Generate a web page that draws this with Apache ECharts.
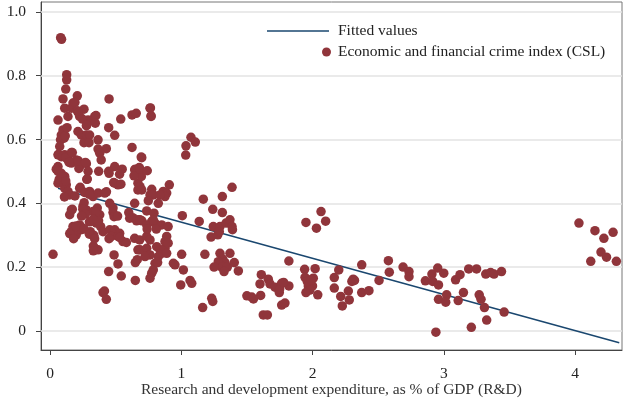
<!DOCTYPE html>
<html>
<head>
<meta charset="utf-8">
<script src="https://cdn.jsdelivr.net/npm/echarts@6/dist/echarts.min.js"></script>
<style>html,body{margin:0;padding:0;background:#fff}#c{width:626px;height:401px}</style>
</head>
<body>
<div id="c"></div>
<script>
// Scatter data: R&D expenditure (% of GDP) vs Economic and financial crime index (CSL)
const crimeX = [
0.081,0.088,0.127,0.127,0.12,0.099,0.208,0.45,0.112,0.137,0.175,0.163,0.19,0.208,0.226,0.259,0.29,0.061,0.34,0.35,
0.345,0.277,0.447,0.493,0.539,0.625,0.657,0.765,0.77,0.099,0.086,0.08,0.107,0.074,0.213,0.238,0.277,0.302,0.259,0.297,
0.366,0.366,0.429,0.379,0.39,0.493,0.45,0.625,0.061,0.086,0.112,0.137,0.163,0.061,0.048,0.137,0.163,0.2,0.226,0.277,
0.086,0.112,0.29,0.371,0.116,0.13,0.22,0.216,0.247,0.28,
0.061,0.081,0.099,0.124,0.112,0.137,0.15,0.061,0.284,0.447,0.226,0.264,0.302,0.328,0.366,0.417,0.493,0.518,0.67,0.696,
0.67,0.645,0.163,0.15,0.175,0.163,0.2,0.226,0.251,0.238,0.251,0.264,0.277,0.328,0.315,0.36,0.379,0.353,0.386,0.404,
0.307,0.333,0.34,0.366,0.48,0.488,0.455,0.493,0.531,0.467,0.518,0.556,0.582,0.488,0.518,0.543,0.447,0.404,0.429,0.415,
0.65,0.023,0.67,0.665,0.645,0.683,0.607,0.67,0.645,0.455,0.48,0.28,0.485,0.54,0.55,0.53,0.65,0.68,0.695,0.64,
0.35,0.30,0.37,0.2,0.15,0.26,0.30,0.18,0.34,0.33,0.33,0.515,0.60,0.63,0.45,0.53,0.66,0.70,0.43,0.19,
0.11,0.26,0.17,0.25,0.27,0.24,0.33,0.23,0.27,0.30,0.07,0.09,0.12,0.065,0.10,0.12,0.17,0.146,0.216,0.27,
0.762,0.77,1.074,1.107,1.036,1.034,0.699,0.686,0.741,0.686,0.699,0.775,0.762,0.787,0.749,0.863,0.889,0.876,0.838,0.825,
0.909,0.737,0.792,0.686,0.775,0.8,0.851,0.90,1.008,1.168,1.137,1.24,1.313,1.313,1.387,1.244,1.295,1.341,1.371,1.387,
1.227,1.278,0.686,0.737,0.762,0.724,0.813,0.838,0.851,0.876,0.889,0.825,0.8,0.889,0.876,0.90,0.737,0.762,0.737,0.787,
0.787,0.775,0.762,1.003,0.94,0.952,1.016,0.996,1.067,1.08,1.18,1.295,1.316,1.333,1.282,1.308,1.351,1.326,1.371,1.404,
1.435,1.25,1.232,1.24,1.163,1.29,1.39,0.65,0.74,0.81,0.82,
2.065,1.95,2.10,2.03,1.82,1.94,2.02,1.61,1.943,2.006,1.968,2.0,1.98,2.04,1.96,1.99,1.95,1.663,1.60,1.676,
1.714,1.765,1.747,1.82,1.605,1.50,1.537,1.55,1.765,1.79,1.625,1.656,1.75,1.78,2.166,2.20,2.166,2.215,2.227,2.273,
2.28,2.31,2.32,2.30,2.375,2.375,2.43,2.507,
2.578,2.585,2.69,2.735,2.735,2.86,2.91,2.954,3.0,2.916,2.96,3.022,2.96,3.015,2.94,3.09,3.124,3.19,3.25,3.15,
3.11,3.27,3.284,3.31,3.327,3.21,3.32,3.357,3.383,3.44,3.46,
4.03,4.152,4.22,4.29,4.198,4.24,4.12,4.315
];
const crimeY = [
0.919,0.914,0.803,0.787,0.758,0.727,0.737,0.727,0.698,0.672,0.714,0.698,0.716,0.69,0.672,0.695,0.661,0.661,0.672,0.675,
0.651,0.643,0.637,0.613,0.664,0.677,0.682,0.699,0.674,0.63,0.614,0.599,0.604,0.578,0.625,0.614,0.614,0.614,0.59,0.59,
0.599,0.57,0.571,0.557,0.536,0.515,0.494,0.575,0.552,0.546,0.552,0.549,0.559,0.515,0.507,0.536,0.526,0.536,0.515,0.524,
0.494,0.484,0.50,0.50,0.611,0.637,0.509,0.684,0.664,0.645,
0.50,0.473,0.463,0.458,0.447,0.437,0.426,0.463,0.476,0.50,0.447,0.434,0.437,0.421,0.432,0.432,0.463,0.458,0.463,0.484,
0.442,0.505,0.379,0.364,0.327,0.311,0.301,0.332,0.322,0.317,0.39,0.374,0.379,0.374,0.343,0.385,0.364,0.338,0.327,0.311,
0.311,0.30,0.259,0.254,0.371,0.358,0.317,0.317,0.306,0.296,0.296,0.28,0.277,0.238,0.21,0.172,0.186,0.12,0.099,0.125,
0.158,0.24,0.254,0.223,0.29,0.285,0.353,0.348,0.40,0.40,0.385,0.475,0.465,0.46,0.507,0.491,0.507,0.512,0.545,0.486,
0.371,0.342,0.345,0.329,0.305,0.319,0.303,0.289,0.289,0.266,0.251,0.36,0.371,0.355,0.289,0.293,0.345,0.345,0.436,0.423,
0.42,0.402,0.381,0.381,0.366,0.36,0.35,0.45,0.434,0.428,0.475,0.483,0.47,0.553,0.549,0.543,0.559,0.528,0.533,0.528,
0.698,0.672,0.607,0.592,0.58,0.551,0.543,0.507,0.502,0.452,0.442,0.444,0.426,0.426,0.408,0.437,0.432,0.421,0.426,0.40,
0.458,0.376,0.369,0.348,0.343,0.338,0.332,0.327,0.361,0.413,0.343,0.381,0.421,0.371,0.45,0.327,0.327,0.338,0.348,0.327,
0.294,0.301,0.254,0.259,0.238,0.233,0.264,0.254,0.243,0.259,0.243,0.233,0.212,0.296,0.28,0.275,0.296,0.285,0.332,0.348,
0.191,0.181,0.165,0.24,0.212,0.207,0.191,0.144,0.158,0.149,0.24,0.243,0.225,0.214,0.217,0.20,0.20,0.186,0.243,0.214,
0.188,0.20,0.102,0.092,0.073,0.311,0.317,0.214,0.319,0.319,0.214,
0.374,0.34,0.344,0.322,0.219,0.193,0.195,0.176,0.168,0.165,0.141,0.141,0.128,0.113,0.155,0.16,0.12,0.162,0.147,0.147,
0.137,0.149,0.12,0.141,0.111,0.11,0.106,0.10,0.081,0.087,0.05,0.05,0.131,0.152,0.167,0.191,0.134,0.108,0.078,0.125,
0.097,0.162,0.158,0.155,0.207,0.12,0.126,0.158,
0.22,0.184,0.20,0.186,0.17,0.157,0.178,0.197,0.181,0.155,0.144,0.113,0.099,0.09,-0.004,0.16,0.176,0.194,0.194,0.12,
0.095,0.113,0.099,0.073,0.034,0.011,0.178,0.183,0.178,0.186,0.059,
0.338,0.314,0.29,0.309,0.247,0.231,0.218,0.218
];
// Fitted values (linear fit)
const fitX = [0.061, 4.337];
const fitY = [0.447, -0.037];
// Axis ticks
const xTicks = [0, 1, 2, 3, 4];
const yTicks = [0, 0.2, 0.4, 0.6, 0.8, 1.0];

const FONT = 'Liberation Serif';
const FS = 15.5;
const scatterData = crimeX.map((x, i) => [x, crimeY[i]]);
const fitData = fitX.map((x, i) => [x, fitY[i]]);

const chart = echarts.init(document.getElementById('c'), null, {renderer: 'canvas'});
chart.setOption({
  animation: false,
  backgroundColor: '#ffffff',
  grid: {left: 41, right: 4, top: 2, bottom: 51, outerBoundsMode: 'none', containLabel: false,
    show: true, borderColor: '#777', borderWidth: 1, backgroundColor: 'transparent'},
  legend: [
    {data: [{name: 'Fitted values', icon: 'rect'}], left: 267, top: 23, padding: 0,
     itemWidth: 62, itemHeight: 1.6,
     itemStyle: {color: '#1a476f'},
     textStyle: {fontFamily: FONT, fontSize: FS, color: '#222', padding: [0, 0, 0, 4]}},
    {data: [{name: 'Economic and financial crime index (CSL)', icon: 'circle'}], left: 322, top: 44, padding: 0,
     itemWidth: 9, itemHeight: 9,
     textStyle: {fontFamily: FONT, fontSize: FS, color: '#222', padding: [0, 0, 0, 2]}}
  ],
  xAxis: {
    type: 'value', min: -0.0686, max: 4.358,
    name: 'Research and development expenditure, as % of GDP (R&D)',
    nameLocation: 'middle', nameGap: 32, nameMoveOverlap: false,
    nameTextStyle: {fontFamily: FONT, fontSize: FS, color: '#333'},
    axisLine: {show: true, onZero: false, lineStyle: {color: '#444', width: 1}},
    axisTick: {show: true, inside: false, length: 5, customValues: xTicks, lineStyle: {color: '#444'}},
    axisLabel: {customValues: xTicks, margin: 16, fontFamily: FONT, fontSize: FS, color: '#222'},
    splitLine: {show: false}
  },
  yAxis: {
    type: 'value', min: -0.06, max: 1.031,
    axisLine: {show: true, onZero: false, lineStyle: {color: '#444', width: 1}},
    axisTick: {show: true, inside: false, length: 5, customValues: yTicks, lineStyle: {color: '#444'}},
    axisLabel: {customValues: yTicks, margin: 15, fontFamily: FONT, fontSize: FS, color: '#222',
      formatter: v => (Math.abs(v) < 1e-9 ? '0' : v.toFixed(1))},
    splitLine: {show: false}
  },
  series: [
    {
      name: 'Fitted values', type: 'line', data: fitData, symbol: 'none', z: 2,
      lineStyle: {color: '#1a476f', width: 1.5},
      itemStyle: {color: '#1a476f'},
      markLine: {
        silent: true, symbol: ['none', 'none'], label: {show: false},
        lineStyle: {color: '#e3e3e3', width: 1.5, type: 'solid'},
        data: yTicks.map(v => ({yAxis: v})),
        z: 1
      }
    },
    {
      name: 'Economic and financial crime index (CSL)', type: 'scatter', data: scatterData,
      symbol: 'circle', symbolSize: 9.5, z: 3,
      itemStyle: {color: '#90353b', opacity: 1}
    }
  ]
});
</script>
</body>
</html>
